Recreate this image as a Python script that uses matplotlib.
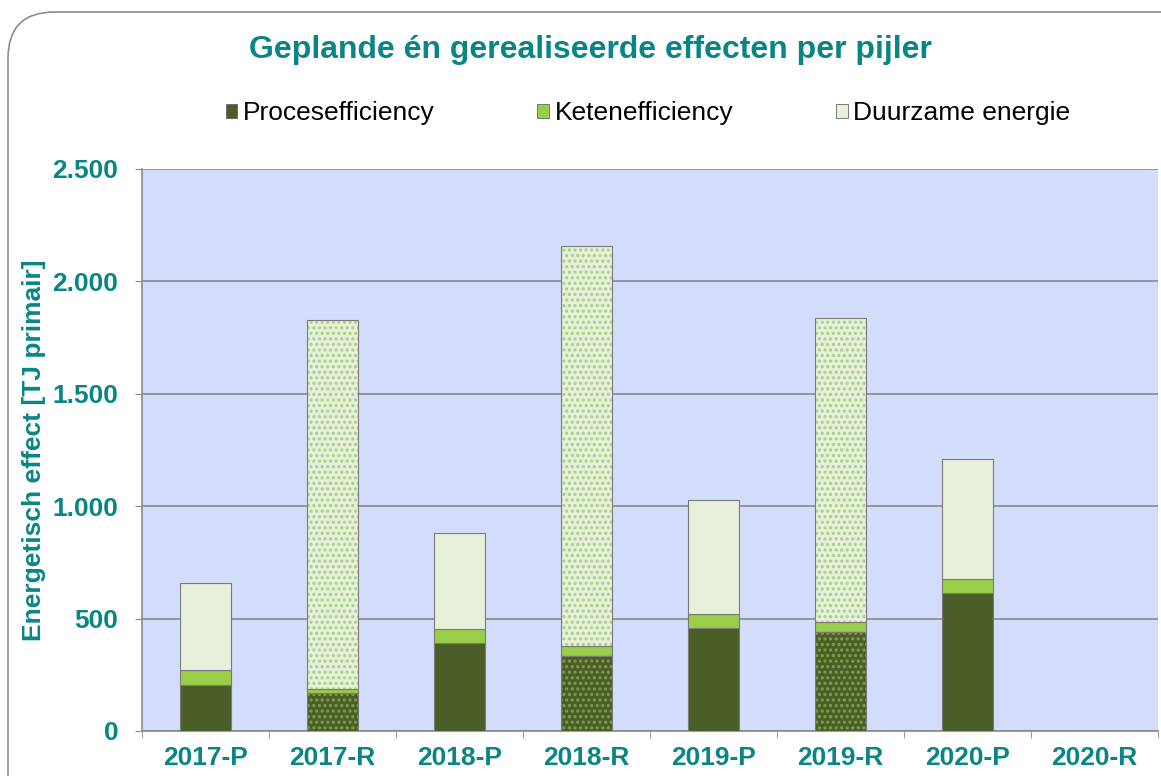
import matplotlib
matplotlib.use("Agg")
import matplotlib.pyplot as plt
from matplotlib.patches import FancyBboxPatch, Patch
import numpy as np

categories = ["2017-P", "2017-R", "2018-P", "2018-R", "2019-P", "2019-R", "2020-P", "2020-R"]
procesefficiency = [205, 170, 390, 335, 460, 440, 612, 0]
ketenefficiency = [66, 15, 62, 45, 62, 45, 64, 0]
duurzame_energie = [387, 1643, 429, 1777, 505, 1352, 534, 0]
series_names = ["Procesefficiency", "Ketenefficiency", "Duurzame energie"]
yticks = [0, 500, 1000, 1500, 2000, 2500]
ytick_labels = ["0", "500", "1.000", "1.500", "2.000", "2.500"]

plt.rcParams['font.family'] = ['Liberation Sans', 'DejaVu Sans']
plt.rcParams['hatch.linewidth'] = 1.5

teal = "#0A8585"
c_proc = "#4B5E28"
c_kete = "#9ACD48"
c_duur = "#E6F0DA"

fig = plt.figure(figsize=(11.61, 7.76), dpi=100)
W, H = 1161, 776
# rounded frame
frame = FancyBboxPatch((8 / W, -0.2), 1.2, (776 - 12) / H + 0.2,
                       boxstyle="round,pad=0,rounding_size=0.04",
                       transform=fig.transFigure, fc="none", ec="#8c8c8c", lw=1.2,
                       mutation_aspect=W / H, zorder=-5)
fig.patches.append(frame)

ax = fig.add_axes([142 / W, (H - 731) / H, (1158 - 142) / W, (731 - 169) / H])
ax.set_facecolor("#D3DDFB")

x = np.arange(len(categories))
width = 0.4
is_r = [c.endswith("R") for c in categories]

bottom = np.zeros(len(categories))
for vals, col, dotcol, name in [(procesefficiency, c_proc, "#7FA048", series_names[0]),
                                (ketenefficiency, c_kete, "#C6E58A", series_names[1]),
                                (duurzame_energie, c_duur, "#A9CF86", series_names[2])]:
    vals = np.array(vals, dtype=float)
    for i in range(len(categories)):
        if vals[i] <= 0:
            continue
        if is_r[i] and name != series_names[1]:
            ax.bar(x[i], vals[i], width, bottom=bottom[i], color=col, edgecolor=dotcol,
                   hatch="...", linewidth=0, zorder=3)
            ax.bar(x[i], vals[i], width, bottom=bottom[i], color="none",
                   edgecolor="#7a7a7a", linewidth=0.8, zorder=4)
        else:
            ax.bar(x[i], vals[i], width, bottom=bottom[i], color=col,
                   edgecolor="#7a7a7a", linewidth=0.8, zorder=3)
    bottom += vals

ax.set_xlim(-0.5, len(categories) - 0.5)
ax.set_ylim(0, 2500)
ax.set_yticks(yticks)
ax.set_yticklabels(ytick_labels)
ax.set_xticks(x)
ax.set_xticklabels(categories)
ax.set_xticks(np.arange(-0.5, len(categories)), minor=True)
ax.tick_params(axis="x", which="major", length=0, pad=11)
ax.tick_params(axis="x", which="minor", length=5, color="#888888", direction="out")
ax.tick_params(axis="y", length=5, color="#888888", direction="out", pad=12)
for lab in ax.get_xticklabels() + ax.get_yticklabels():
    lab.set_color(teal)
    lab.set_fontweight("bold")
    lab.set_fontsize(19)
ax.grid(axis="y", color="#8a8a8a", linewidth=1.2, zorder=1)
ax.set_axisbelow(True)
for s in ["top", "right"]:
    ax.spines[s].set_visible(False)
for s in ["left", "bottom"]:
    ax.spines[s].set_color("#8a8a8a")
    ax.spines[s].set_linewidth(1.2)

ax.set_ylabel("Energetisch effect [TJ primair]", color=teal, fontweight="bold",
              fontsize=19, labelpad=5)

fig.text(590 / W, (H - 50) / H, "Geplande én gerealiseerde effecten per pijler",
         ha="center", va="center", color=teal, fontweight="bold", fontsize=23)

handles = [Patch(facecolor=c, edgecolor="#666666", linewidth=0.6) for c in (c_proc, c_kete, c_duur)]
fig.legend(handles, series_names, loc="center", bbox_to_anchor=(648 / W, (H - 113) / H),
           ncol=3, frameon=False, fontsize=19, handlelength=0.45, handleheight=0.45,
           handletextpad=0.2, columnspacing=3.9)

fig.savefig("out.png", dpi=100)
